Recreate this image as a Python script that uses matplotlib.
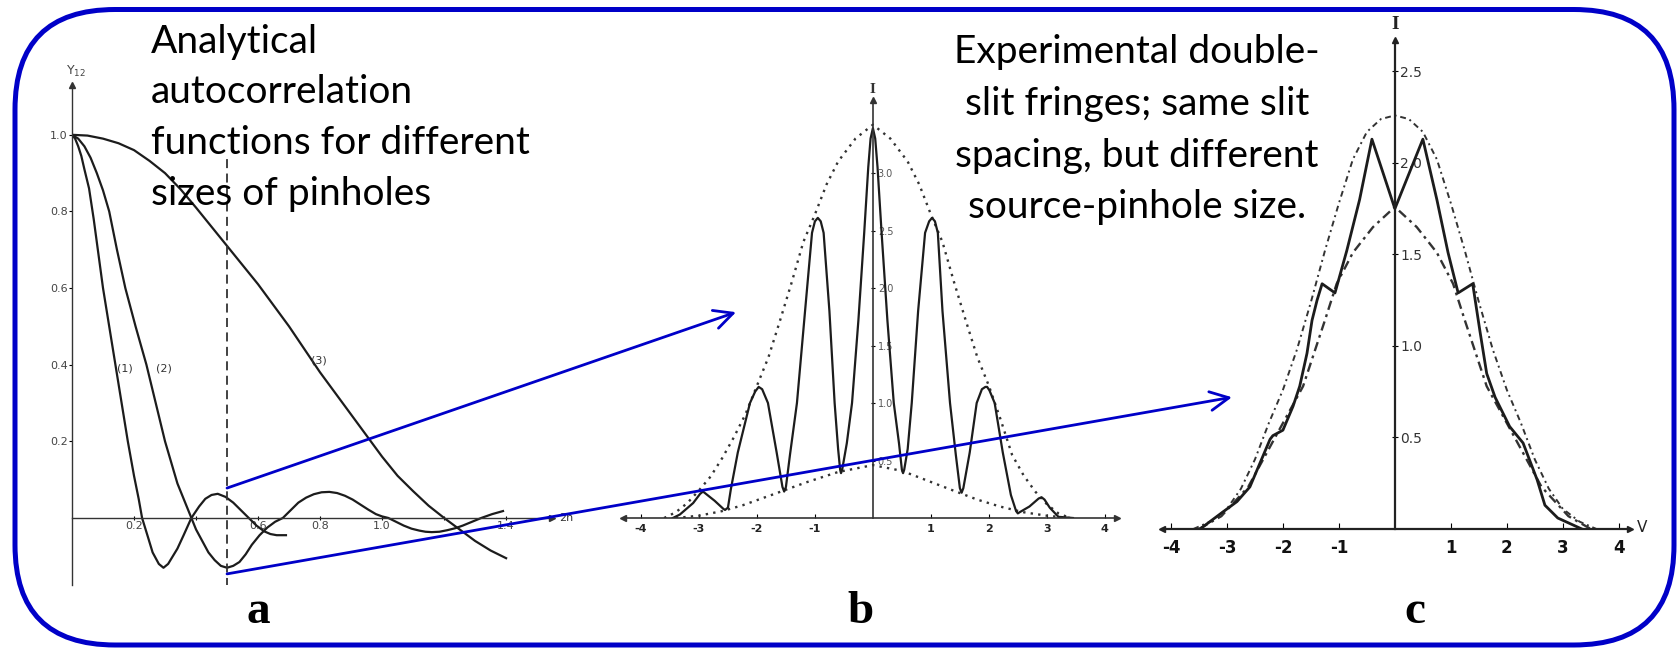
import matplotlib.pyplot as plt
from matplotlib.patches import FancyBboxPatch, ConnectionPatch

# ---- panel a: analytical autocorrelation functions (gamma_12 vs 2h)
a_x1 = [0, 0.01, 0.02, 0.03, 0.04, 0.055, 0.07, 0.085, 0.10, 0.12, 0.14, 0.16, 0.18, 0.20, 0.215, 0.226,
        0.245, 0.26, 0.28, 0.295, 0.31, 0.34, 0.36, 0.385, 0.41, 0.43, 0.45, 0.47, 0.495, 0.52, 0.545,
        0.57, 0.595, 0.62, 0.64, 0.66, 0.69]
a_y1 = [1.0, 0.99, 0.97, 0.945, 0.91, 0.86, 0.78, 0.69, 0.6, 0.5, 0.4, 0.3, 0.2, 0.11, 0.05, 0.0,
        -0.05, -0.09, -0.12, -0.13, -0.12, -0.08, -0.045, 0.0, 0.03, 0.05, 0.06, 0.063, 0.055, 0.04, 0.02,
        0.0, -0.02, -0.035, -0.042, -0.045, -0.045]
a_x2 = [0, 0.02, 0.04, 0.06, 0.08, 0.10, 0.12, 0.145, 0.172, 0.205, 0.24, 0.27, 0.30, 0.34, 0.385,
        0.40, 0.42, 0.44, 0.46, 0.48, 0.50, 0.52, 0.54, 0.56, 0.58, 0.605, 0.63, 0.655, 0.68, 0.705,
        0.73, 0.755, 0.78, 0.805, 0.83, 0.855, 0.88, 0.905, 0.93, 0.955, 0.98, 1.0, 1.02, 1.045, 1.07,
        1.095, 1.12, 1.14, 1.16, 1.185, 1.21, 1.235, 1.26, 1.29, 1.32, 1.355, 1.39]
a_y2 = [1.0, 0.99, 0.97, 0.94, 0.9, 0.855, 0.8, 0.7, 0.6, 0.5, 0.4, 0.3, 0.2, 0.09, 0.0,
        -0.03, -0.06, -0.09, -0.11, -0.125, -0.13, -0.125, -0.115, -0.095, -0.07, -0.045, -0.025, -0.01,
        0.0, 0.02, 0.04, 0.053, 0.062, 0.067, 0.068, 0.065, 0.058, 0.048, 0.035, 0.022, 0.01, 0.004,
        0.0, -0.01, -0.02, -0.028, -0.033, -0.036, -0.037, -0.036, -0.032, -0.027, -0.02, -0.01, 0.0,
        0.01, 0.018]
a_x3 = [0, 0.05, 0.1, 0.15, 0.2, 0.25, 0.3, 0.35, 0.4, 0.45, 0.5, 0.55, 0.6, 0.65, 0.7, 0.75, 0.8,
        0.85, 0.9, 0.95, 1.0, 1.05, 1.1, 1.15, 1.2, 1.25, 1.3, 1.35, 1.4]
a_y3 = [1.0, 0.998, 0.99, 0.978, 0.96, 0.932, 0.9, 0.858, 0.81, 0.76, 0.71, 0.66, 0.61, 0.555, 0.5,
        0.44, 0.38, 0.325, 0.27, 0.215, 0.16, 0.11, 0.07, 0.032, 0.0, -0.03, -0.06, -0.085, -0.105]
a_curve_labels = ["(1)", "(2)", "(3)"]
a_label_pos = [(0.172, 0.39), (0.295, 0.39), (0.795, 0.41)]
a_dash_x = 0.5
a_dash_y = [-0.18, 0.94]
a_xticks = [0.2, 0.4, 0.6, 0.8, 1.0, 1.2, 1.4]
a_xticklabels = ["0.2", "", "0.6", "0.8", "1.0", "", "1.4"]
a_yticks = [0.2, 0.4, 0.6, 0.8, 1.0]
a_yticklabels = ["0.2", "0.4", "0.6", "0.8", "1.0"]

# ---- panel b: fringes, small source pinhole
b_x = [-3.45, -3.33, -3.1, -2.98, -2.93, -2.88, -2.73, -2.58, -2.55, -2.5, -2.45, -2.33, -2.12, -2.03,
       -1.97, -1.91, -1.81, -1.66, -1.56, -1.53, -1.5,
       -1.43, -1.31, -1.17, -1.05, -1.0, -0.95, -0.9, -0.85, -0.75, -0.66, -0.6, -0.565, -0.55, -0.53,
       -0.45, -0.36, -0.25, -0.15, -0.08, -0.04, 0.0, 0.04, 0.08, 0.15, 0.25, 0.36, 0.45, 0.5, 0.52, 0.54,
       0.6, 0.67, 0.78, 0.9, 0.97, 1.02, 1.07, 1.12, 1.2, 1.33, 1.43, 1.5, 1.53, 1.56,
       1.67, 1.79, 1.88, 1.94, 1.97, 2.01, 2.1, 2.24, 2.38, 2.47, 2.5, 2.53,
       2.7, 2.86, 2.91, 2.96, 3.05, 3.2, 3.45]
b_y = [0.0, 0.03, 0.13, 0.21, 0.23, 0.21, 0.15, 0.08, 0.07, 0.09, 0.25, 0.57, 1.0, 1.1,
       1.14, 1.12, 1.0, 0.57, 0.27, 0.23, 0.27,
       0.55, 1.0, 1.8, 2.48, 2.58, 2.61, 2.58, 2.48, 1.8, 1.0, 0.6, 0.42, 0.39, 0.42,
       0.65, 1.0, 1.72, 2.48, 3.05, 3.3, 3.39, 3.3, 3.05, 2.48, 1.72, 1.0, 0.65, 0.42, 0.39, 0.42,
       0.6, 1.0, 1.8, 2.48, 2.58, 2.61, 2.58, 2.48, 1.8, 1.0, 0.55, 0.26, 0.22, 0.26,
       0.57, 1.0, 1.12, 1.14, 1.14, 1.11, 1.0, 0.57, 0.2, 0.06, 0.04, 0.05,
       0.1, 0.17, 0.18, 0.16, 0.09, 0.01, 0.0]
b_up_x = [-3.6, -3.4, -3.2, -3.0, -2.8, -2.6, -2.4, -2.2, -2.0, -1.8, -1.6, -1.4, -1.2, -1.0, -0.8, -0.6,
          -0.3, 0.0, 0.3, 0.6, 0.8, 1.0, 1.2, 1.4, 1.6, 1.8, 2.0, 2.2, 2.4, 2.6, 2.8, 3.0, 3.2, 3.4]
b_up_y = [0.0, 0.05, 0.13, 0.24, 0.36, 0.52, 0.7, 0.9, 1.15, 1.4, 1.72, 2.05, 2.4, 2.64, 2.9, 3.1,
          3.3, 3.42, 3.3, 3.1, 2.9, 2.64, 2.4, 2.05, 1.72, 1.4, 1.15, 0.86, 0.55, 0.37, 0.23, 0.12, 0.04, 0.0]
b_lo_x = [-3.4, -3.0, -2.6, -2.25, -1.75, -1.15, -0.6, 0.0, 0.5, 0.76, 1.38, 1.8, 2.19, 2.6, 3.0, 3.4]
b_lo_y = [0.0, 0.02, 0.06, 0.11, 0.2, 0.31, 0.4, 0.46, 0.41, 0.36, 0.24, 0.16, 0.1, 0.05, 0.02, 0.0]
b_xticks = [-4, -3, -2, -1, 1, 2, 3, 4]
b_xticklabels = ["-4", "-3", "-2", "-1", "1", "2", "3", "4"]
b_yticks = [0.5, 1.0, 1.5, 2.0, 2.5, 3.0]
b_yticklabels = ["0.5", "1.0", "1.5", "2.0", "2.5", "3.0"]

# ---- panel c: fringes, larger source pinhole
c_x = [-3.48, -3.13, -2.82, -2.59, -2.41, -2.23, -2.18, -2.0, -1.82, -1.7, -1.57, -1.48, -1.39, -1.3,
       -1.07, -0.86, -0.63, -0.41, 0.0, 0.5, 0.75, 0.95, 1.13, 1.39, 1.52, 1.64, 1.79, 2.05, 2.29,
       2.54, 2.68, 2.91, 3.34]
c_y = [0.0, 0.08, 0.15, 0.23, 0.36, 0.49, 0.51, 0.54, 0.67, 0.78, 0.96, 1.14, 1.25, 1.34,
       1.29, 1.52, 1.8, 2.13, 1.75, 2.13, 1.8, 1.51, 1.29, 1.34, 1.08, 0.85, 0.72, 0.56, 0.47,
       0.27, 0.13, 0.06, 0.0]
c_up_x = [-3.6, -3.3, -3.0, -2.75, -2.5, -2.25, -2.0, -1.75, -1.5, -1.25, -1.0, -0.75, -0.5, -0.25, 0.0,
          0.25, 0.5, 0.75, 1.0, 1.25, 1.5, 1.75, 2.0, 2.25, 2.5, 2.75, 3.0, 3.3, 3.6]
c_up_y = [0.0, 0.04, 0.11, 0.22, 0.38, 0.58, 0.76, 0.98, 1.24, 1.52, 1.78, 2.02, 2.17, 2.24, 2.26,
          2.24, 2.17, 2.02, 1.78, 1.52, 1.24, 0.98, 0.76, 0.58, 0.38, 0.22, 0.11, 0.04, 0.0]
c_lo_x = [-3.5, -3.1, -2.62, -2.14, -1.64, -1.25, -1.04, -0.75, -0.39, 0.0,
          0.39, 0.75, 1.04, 1.25, 1.64, 2.14, 2.62, 3.1, 3.5]
c_lo_y = [0.0, 0.07, 0.23, 0.5, 0.78, 1.14, 1.34, 1.51, 1.65, 1.76,
          1.65, 1.51, 1.34, 1.14, 0.78, 0.5, 0.23, 0.07, 0.0]
c_xticks = [-4, -3, -2, -1, 1, 2, 3, 4]
c_xticklabels = ["-4", "-3", "-2", "-1", "1", "2", "3", "4"]
c_yticks = [0.5, 1.0, 1.5, 2.0, 2.5]
c_yticklabels = ["0.5", "1.0", "1.5", "2.0", "2.5"]

# slide texts
text_left = ["Analytical", "autocorrelation", "functions for different", "sizes of pinholes"]
text_right = ["Experimental double-", "slit fringes; same slit", "spacing, but different",
              "source-pinhole size."]
panel_names = ["a", "b", "c"]

# blue links (panel a data point -> panel b / c data point)
link_b = ((0.5, 0.078), (-2.36, 1.79))
link_c = ((0.5, -0.146), (-2.91, 0.72))

W, H = 1681, 648
INK = "#1c1c1c"
BLUE = "#0000C8"

fig = plt.figure(figsize=(W / 100, H / 100), dpi=100)
bg = fig.add_axes([0, 0, 1, 1])
bg.set_xlim(0, W)
bg.set_ylim(H, 0)
bg.axis("off")

border = FancyBboxPatch((15, 9.5), 1674 - 15, 645 - 9.5, boxstyle="round,pad=0,rounding_size=100",
                        ec=BLUE, fc="none", lw=3.6)
bg.add_patch(border)


def px_axes(left, top, right, bottom):
    ax = fig.add_axes([left / W, 1 - bottom / H, (right - left) / W, (bottom - top) / H])
    ax.patch.set_visible(False)
    return ax


# panel a
axa = px_axes(72, 85, 552, 585)
axa.set_xlim(0, 1.548)
axa.set_ylim(-0.175, 1.13)
for x, y in [(a_x1, a_y1), (a_x2, a_y2), (a_x3, a_y3)]:
    axa.plot(x, y, color=INK, lw=1.6)
axa.plot([a_dash_x, a_dash_x], a_dash_y, color="#333333", lw=1.3, ls=(0, (5, 3)))
for lab, (x, y) in zip(a_curve_labels, a_label_pos):
    axa.text(x, y, lab, fontsize=8, color="#333333", ha="center", va="center")
axa.spines["bottom"].set_position(("data", 0))
axa.spines["top"].set_visible(False)
axa.spines["right"].set_visible(False)
for s in axa.spines.values():
    s.set_color("#333333")
    s.set_linewidth(1.0)
axa.set_xticks(a_xticks, a_xticklabels)
axa.set_yticks(a_yticks, a_yticklabels)
axa.tick_params(axis="x", direction="inout", length=3, pad=1, labelsize=8, labelcolor="#444444")
axa.tick_params(axis="y", direction="out", length=2, pad=1, labelsize=8, labelcolor="#444444")
axa.plot([0], [1], marker="^", ms=4, color="#333333", transform=axa.transAxes, clip_on=False)
axa.plot([1], [0], marker=">", ms=4, color="#333333", transform=axa.get_yaxis_transform(), clip_on=False)
axa.annotate("2h", xy=(1, 0), xycoords=axa.get_yaxis_transform(), xytext=(5, 0),
             textcoords="offset points", va="center", ha="left", fontsize=8, color="#333333")
axa.annotate(r"$\Upsilon_{12}$", xy=(0, 1), xycoords=axa.transAxes, xytext=(-4, 4),
             textcoords="offset points", va="bottom", ha="left", fontsize=9, color="#444444")

# panel b
axb = px_axes(623, 100, 1117, 518)
axb.set_xlim(-4.31, 4.21)
axb.set_ylim(0, 3.635)
axb.plot(b_up_x, b_up_y, color="#333333", lw=1.7, ls=(0, (1, 2.2)))
axb.plot(b_lo_x, b_lo_y, color="#333333", lw=1.7, ls=(0, (1, 2.2)))
axb.plot(b_x, b_y, color=INK, lw=1.6)
axb.spines["right"].set_position(("data", 0))
axb.spines["left"].set_visible(False)
axb.spines["top"].set_visible(False)
for s in axb.spines.values():
    s.set_color("#333333")
    s.set_linewidth(1.2)
axb.yaxis.tick_right()
axb.set_xticks(b_xticks, b_xticklabels)
axb.set_yticks(b_yticks, b_yticklabels)
axb.tick_params(axis="x", direction="in", length=3, pad=4, labelsize=8, labelcolor="#222222")
for t in axb.get_xticklabels():
    t.set_fontweight("bold")
axb.tick_params(axis="y", direction="inout", length=3, pad=2, labelsize=7, labelcolor="#555555")
axb.plot([0], [1], marker="^", ms=4, color="#333333", transform=axb.get_xaxis_transform(), clip_on=False)
axb.plot([0], [0], marker="<", ms=4, color="#333333", transform=axb.transAxes, clip_on=False)
axb.plot([1], [0], marker=">", ms=4, color="#333333", transform=axb.transAxes, clip_on=False)
axb.annotate("I", xy=(0, 1), xycoords=axb.get_xaxis_transform(), xytext=(0, 3),
             textcoords="offset points", ha="center", va="bottom", fontsize=11,
             family="Liberation Serif", fontweight="bold", color="#333333")

# panel c
axc = px_axes(1162, 40, 1630, 529)
axc.set_xlim(-4.16, 4.20)
axc.set_ylim(0, 2.672)
axc.plot(c_up_x, c_up_y, color="#333333", lw=1.4, ls=(0, (3, 2, 1, 2)))
axc.plot(c_lo_x, c_lo_y, color="#333333", lw=1.7, ls=(0, (4, 2, 1.2, 2)))
axc.plot(c_x, c_y, color=INK, lw=2.0)
axc.spines["right"].set_position(("data", 0))
axc.spines["left"].set_visible(False)
axc.spines["top"].set_visible(False)
for s in axc.spines.values():
    s.set_color("#222222")
    s.set_linewidth(1.6)
axc.yaxis.tick_right()
axc.set_xticks(c_xticks, c_xticklabels)
axc.set_yticks(c_yticks, c_yticklabels)
axc.tick_params(axis="x", direction="in", length=4, pad=7, labelsize=12, labelcolor="#111111")
for t in axc.get_xticklabels():
    t.set_fontweight("bold")
axc.tick_params(axis="y", direction="inout", length=4, pad=2, labelsize=10, labelcolor="#333333")
axc.plot([0], [1], marker="^", ms=5, color="#222222", transform=axc.get_xaxis_transform(), clip_on=False)
axc.plot([0], [0], marker="<", ms=5, color="#222222", transform=axc.transAxes, clip_on=False)
axc.plot([1], [0], marker=">", ms=5, color="#222222", transform=axc.transAxes, clip_on=False)
axc.annotate("I", xy=(0, 1), xycoords=axc.get_xaxis_transform(), xytext=(0, 5),
             textcoords="offset points", ha="center", va="bottom", fontsize=14,
             family="Liberation Serif", fontweight="bold", color="#222222")
axc.annotate("V", xy=(1, 0), xycoords=axc.get_yaxis_transform(), xytext=(5, 1),
             textcoords="offset points", ha="left", va="center", fontsize=11, color="#222222")

# blue links
for (pa, pb), axt in [(link_b, axb), (link_c, axc)]:
    con = ConnectionPatch(xyA=pa, coordsA=axa.transData, xyB=pb, coordsB=axt.transData,
                          arrowstyle="->,head_length=0.9,head_width=0.45", mutation_scale=15,
                          color=BLUE, lw=2.0, shrinkA=0, shrinkB=0)
    fig.add_artist(con)

# slide texts
for i, line in enumerate(text_left):
    fig.text(151, [53, 103, 154, 205][i], line, transform=bg.transData, ha="left", va="baseline",
             fontsize=28, family="Lato", color="black")
for i, line in enumerate(text_right):
    fig.text(1137, [63, 115, 167, 218][i], line, transform=bg.transData, ha="center", va="baseline",
             fontsize=28, family="Lato", color="black")
for name, x in zip(panel_names, [258, 861, 1415]):
    fig.text(x, 623, name, transform=bg.transData, ha="center", va="baseline", fontsize=34,
             family="Liberation Serif", fontweight="bold", color="black")

fig.savefig("out.png", dpi=100)
